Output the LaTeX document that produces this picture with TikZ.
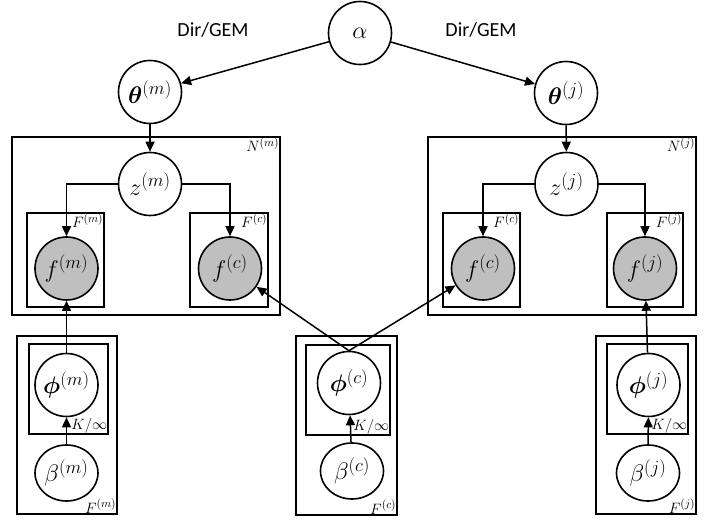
\RequirePackage{fix-cm}
\documentclass[tikz,border=0pt]{standalone}
\usepackage{amsmath,bm}
\usepackage{fontspec}
\newfontfamily\labfont{Carlito}
\DeclareMathSizes{24}{24}{18.5}{14}
\DeclareMathSizes{15}{15}{11.5}{9}
\usetikzlibrary{arrows.meta,shapes.geometric}
\tikzset{
  rv/.style={circle,draw,line width=1.6pt,minimum size=63pt,inner sep=0pt,font=\fontsize{24}{28}\selectfont},
  obs/.style={rv,fill=black!25},
  rvel/.style={ellipse,draw,line width=1.6pt,minimum width=63pt,minimum height=56pt,inner sep=0pt,font=\fontsize{24}{28}\selectfont},
  plate/.style={draw,line width=1.2pt,inner sep=0pt},
  plab/.style={inner sep=1.2pt,font=\fontsize{15}{18}\selectfont},
  conn/.style={line width=1.5pt,-{Triangle[length=10pt,width=9pt]}},
  dg/.style={font=\labfont\fontsize{20}{24}\selectfont}
}
\begin{document}
\begin{tikzpicture}[x=1pt,y=-1pt]
\useasboundingbox (0,0) rectangle (716,521);
% plates
\node[plate,minimum width=268pt,minimum height=178pt] (Nm) at (146,226) {};
\node[plate,minimum width=77pt,minimum height=94pt] (Fm) at (65.5,260) {};
\node[plate,minimum width=78pt,minimum height=94pt] (Fc) at (229,260) {};
\node[plate,minimum width=268pt,minimum height=178pt] (Nj) at (562,226) {};
\node[plate,minimum width=77pt,minimum height=94pt] (Fcj) at (481.5,260) {};
\node[plate,minimum width=76pt,minimum height=94pt] (Fj) at (645,260) {};
\node[plate,minimum width=100pt,minimum height=178pt] (Bm) at (67,425) {};
\node[plate,minimum width=79pt,minimum height=90pt] (Km) at (68.5,389) {};
\node[plate,minimum width=101pt,minimum height=179pt] (Bc) at (346.5,425.5) {};
\node[plate,minimum width=84pt,minimum height=90pt] (Kc) at (348,390) {};
\node[plate,minimum width=100pt,minimum height=178pt] (Bj) at (646,425) {};
\node[plate,minimum width=81pt,minimum height=90pt] (Kj) at (647.5,389) {};
% plate labels
\node[plab,anchor=north east] (lNm) at (Nm.north east) {$N^{(m)}$};
\node[plab,anchor=north east] (lNj) at (Nj.north east) {$N^{(j)}$};
\node[plab,anchor=north east] (lFm) at (Fm.north east) {$F^{(m)}$};
\node[plab,anchor=north east] (lFc) at (Fc.north east) {$F^{(c)}$};
\node[plab,anchor=north east] (lFcj) at (Fcj.north east) {$F^{(c)}$};
\node[plab,anchor=north east] (lFj) at (Fj.north east) {$F^{(j)}$};
\node[plab,anchor=south east] (lKm) at (Km.south east) {$K/\infty$};
\node[plab,anchor=south east] (lKc) at (Kc.south east) {$K/\infty$};
\node[plab,anchor=south east] (lKj) at (Kj.south east) {$K/\infty$};
\node[plab,anchor=south east] (lBm) at (Bm.south east) {$F^{(m)}$};
\node[plab,anchor=south east] (lBc) at (Bc.south east) {$F^{(c)}$};
\node[plab,anchor=south east] (lBj) at (Bj.south east) {$F^{(j)}$};
% variables
\node[rv] (alpha) at (360,33) {$\alpha$};
\node[rv] (thm) at (150,92) {$\bm{\theta}^{(m)}$};
\node[rv] (thj) at (566,93) {$\bm{\theta}^{(j)}$};
\node[rv] (zm) at (150,184) {$z^{(m)}$};
\node[rv] (zj) at (566.5,184) {$z^{(j)}$};
\node[obs] (fmm) at (66.5,268.5) {$f^{(m)}$};
\node[obs] (fmc) at (230,268.5) {$f^{(c)}$};
\node[obs] (fjc) at (483,268.5) {$f^{(c)}$};
\node[obs] (fjj) at (645,268.5) {$f^{(j)}$};
\node[rv] (phim) at (66.5,385) {$\bm{\phi}^{(m)}$};
\node[rv] (phic) at (349,383) {$\bm{\phi}^{(c)}$};
\node[rv] (phij) at (648.5,385) {$\bm{\phi}^{(j)}$};
\node[rvel] (betam) at (66.5,473) {$\beta^{(m)}$};
\node[rvel] (betac) at (352,471) {$\beta^{(c)}$};
\node[rvel] (betaj) at (648,473) {$\beta^{(j)}$};
% Dir/GEM labels
\node[dg] (dgl) at (213,30) {Dir/GEM};
\node[dg] (dgr) at (481,30) {Dir/GEM};
% connectors
\draw[conn] (alpha) -- (thm);
\draw[conn] (alpha) -- (thj);
\draw[conn] (thm) -- (zm);
\draw[conn] (thj) -- (zj);
\draw[conn] (zm.west) -| (fmm.north);
\draw[conn] (zm.east) -| (fmc.north);
\draw[conn] (zj.west) -| (fjc.north);
\draw[conn] (zj.east) -| (fjj.north);
\draw[conn] (phim) -- (fmm);
\draw[conn] (phij) -- (fjj);
\draw[conn] (phic.north) -- (fmc);
\draw[conn] (phic.north) -- (fjc);
\draw[conn] (betam) -- (phim);
\draw[conn] (betac) -- (phic);
\draw[conn] (betaj) -- (phij);
\end{tikzpicture}
\end{document}
